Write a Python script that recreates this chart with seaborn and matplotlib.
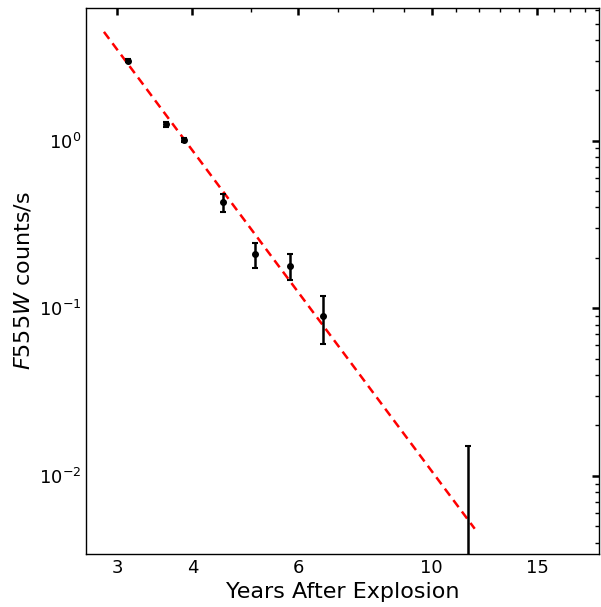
import numpy as np
import pandas as pd
import matplotlib
matplotlib.use("Agg")
import matplotlib.pyplot as plt
from matplotlib.ticker import ScalarFormatter, NullFormatter
import seaborn as sns

# data points
years = [3.12, 3.61, 3.88, 4.49, 5.09, 5.82, 6.60, 11.49]
counts = [3.00, 1.25, 1.01, 0.428, 0.210, 0.179, 0.090, 0.002]
err_lo = [0.06, 0.04, 0.03, 0.053, 0.035, 0.031, 0.029, 0.013]
err_hi = [0.06, 0.04, 0.03, 0.053, 0.034, 0.031, 0.029, 0.013]

# end points of the dashed power-law fit
fit_years = [2.85, 11.8]
fit_counts = [4.46, 0.00484]

sns.set_style("white")
plt.rcParams.update({"text.color": "black", "axes.labelcolor": "black",
                     "xtick.color": "black", "ytick.color": "black"})

fig = plt.figure(figsize=(6.01, 6.07), dpi=100)
ax = fig.add_axes([0.143, 0.0873, 0.8537, 0.8997])

fit = pd.DataFrame({"x": fit_years, "y": fit_counts})
sns.lineplot(data=fit, x="x", y="y", ax=ax, color="red", lw=1.8,
             linestyle=(0, (3.5, 2.2)))

ax.errorbar(years, counts, yerr=[err_lo, err_hi], fmt="o", color="black",
            ms=4, elinewidth=1.8, capsize=2.5, capthick=1.5)

ax.set_xscale("log")
ax.set_yscale("log")
ax.set_xlim(2.66, 19)
ax.set_ylim(0.00342, 6.2)

ax.set_xticks([3, 4, 6, 10, 15])
ax.set_xticks([5, 7, 8, 9, 11, 12, 13, 14, 16, 17, 18], minor=True)
ax.xaxis.set_major_formatter(ScalarFormatter())
ax.xaxis.set_minor_formatter(NullFormatter())

ax.tick_params(which="both", direction="in", top=True, right=True,
               labelsize=13, color="black", labelcolor="black")
ax.tick_params(which="major", length=5, width=1.8)
ax.tick_params(which="minor", length=3, width=1)
for s in ax.spines.values():
    s.set_color("black")
    s.set_linewidth(1)

ax.set_xlabel("Years After Explosion", fontsize=16, color="black")
ax.set_ylabel("$F555W$ counts/s", fontsize=16, color="black")

fig.savefig("out.png", dpi=100)
